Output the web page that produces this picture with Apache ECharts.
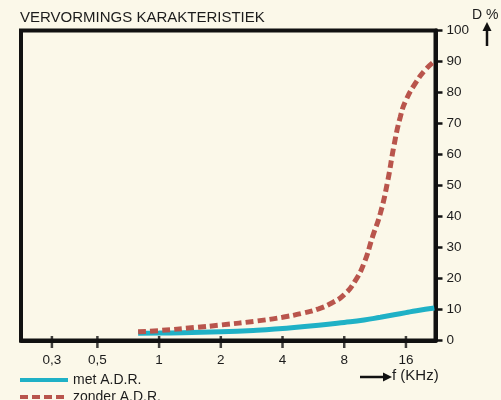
<!DOCTYPE html>
<html>
<head>
<meta charset="utf-8">
<script src="https://cdn.jsdelivr.net/npm/echarts@6/dist/echarts.min.js"></script>
<style>
html,body{margin:0;padding:0;background:#fbf8e9;}
#c{width:501px;height:400px;}
</style>
</head>
<body>
<div id="c"></div>
<script>
// Frequencies in kHz, distortion D in %
const freqMet = [0.79, 1, 2, 3, 4, 6, 8, 10, 12, 14, 16, 18, 22];
const valMet  = [2.3, 2.4, 2.8, 3.3, 3.9, 4.9, 5.8, 6.6, 7.5, 8.3, 9.0, 9.6, 10.5];

const freqZonder = [0.79, 1, 1.5, 2, 3, 4, 5, 6, 7, 8, 9, 10, 11, 12, 13, 14, 15, 16, 18, 20, 22];
const valZonder  = [2.8, 3.2, 4.2, 5.0, 6.3, 7.5, 8.8, 10.2, 12.2, 14.8, 19, 25, 33.5, 41, 51, 63, 72, 77.5, 83.5, 87.5, 90];

const tickFreqs  = [0.3, 0.5, 1, 2, 4, 8, 16];
const tickLabels = ['0,3', '0,5', '1', '2', '4', '8', '16'];

const seriesNames = ['met A.D.R.', 'zonder A.D.R.'];

const cyan = '#1fb1c6';
const red = '#b9554c';
const ink = '#1c1c1c';
const font = 'Liberation Sans, Arial, sans-serif';

const toPos = f => Math.log2(f);
const tickPos = tickFreqs.map(toPos);

const chart = echarts.init(document.getElementById('c'));
chart.setOption({
  backgroundColor: '#fbf8e9',
  animation: false,
  title: {
    text: 'VERVORMINGS KARAKTERISTIEK',
    left: 20, top: 10, padding: 0,
    textStyle: {fontSize: 15, fontWeight: 'normal', color: ink, fontFamily: font}
  },
  legend: {
    orient: 'vertical', left: 18, top: 373, height: 40, padding: 0,
    itemWidth: 48, itemHeight: 14, itemGap: 3,
    data: seriesNames,
    itemStyle: {opacity: 0},
    lineStyle: {width: 4},
    textStyle: {fontSize: 14, color: ink, fontFamily: font}
  },
  grid: {
    left: 21, right: 65.5, top: 30.5, bottom: 59.5,
    show: true, borderColor: '#111', borderWidth: 4, backgroundColor: 'transparent'
  },
  xAxis: {
    type: 'value',
    min: toPos(0.212), max: toPos(22.3),
    axisLine: {show: true, onZero: false, lineStyle: {color: '#111', width: 4}},
    axisTick: {show: false},
    axisLabel: {
      customValues: tickPos, margin: 13, fontSize: 13.5, color: ink, fontFamily: font,
      formatter: v => {
        let best = 0, d = Infinity;
        tickPos.forEach((p, i) => { if (Math.abs(p - v) < d) { d = Math.abs(p - v); best = i; } });
        return tickLabels[best];
      }
    },
    splitLine: {show: false}
  },
  yAxis: {
    type: 'value', position: 'right',
    min: 0, max: 100, interval: 10,
    axisLine: {show: true, onZero: false, lineStyle: {color: '#111', width: 4}},
    axisTick: {show: true, length: 7, lineStyle: {color: '#111', width: 2.5}},
    axisLabel: {margin: 11, fontSize: 13.5, color: ink, fontFamily: font},
    splitLine: {show: false}
  },
  series: [
    {
      name: seriesNames[0], type: 'line', smooth: true, symbol: 'none',
      color: cyan,
      lineStyle: {color: cyan, width: 5},
      data: freqMet.map((f, i) => [toPos(f), valMet[i]]),
      z: 3
    },
    {
      name: seriesNames[1], type: 'line', smooth: true, symbol: 'none',
      color: red,
      lineStyle: {color: red, width: 5, type: [8, 4]},
      data: freqZonder.map((f, i) => [toPos(f), valZonder[i]]),
      z: 4
    },
    {
      // x-axis tick marks at the labelled frequencies
      name: 'ticks', type: 'scatter', silent: true, clip: false,
      symbol: 'rect', symbolSize: [2.5, 12], symbolOffset: [0, 1.5],
      itemStyle: {color: '#111'},
      data: tickPos.map(p => [p, 0]),
      z: 10
    }
  ],
  graphic: [
    {type: 'text', left: 472, top: 8, style: {text: 'D %', fontSize: 14, fill: ink, fontFamily: font}},
    {type: 'line', shape: {x1: 487, y1: 46, x2: 487, y2: 29}, style: {stroke: '#111', lineWidth: 2.5}},
    {type: 'polygon', shape: {points: [[482.5, 31], [491.5, 31], [487, 22]]}, style: {fill: '#111'}},
    {type: 'line', shape: {x1: 360, y1: 377, x2: 385, y2: 377}, style: {stroke: '#111', lineWidth: 2.5}},
    {type: 'polygon', shape: {points: [[383, 372.5], [383, 381.5], [392, 377]]}, style: {fill: '#111'}},
    {type: 'text', left: 392, top: 368, style: {text: 'f (KHz)', fontSize: 15, fill: ink, fontFamily: font}}
  ]
});
</script>
</body>
</html>
